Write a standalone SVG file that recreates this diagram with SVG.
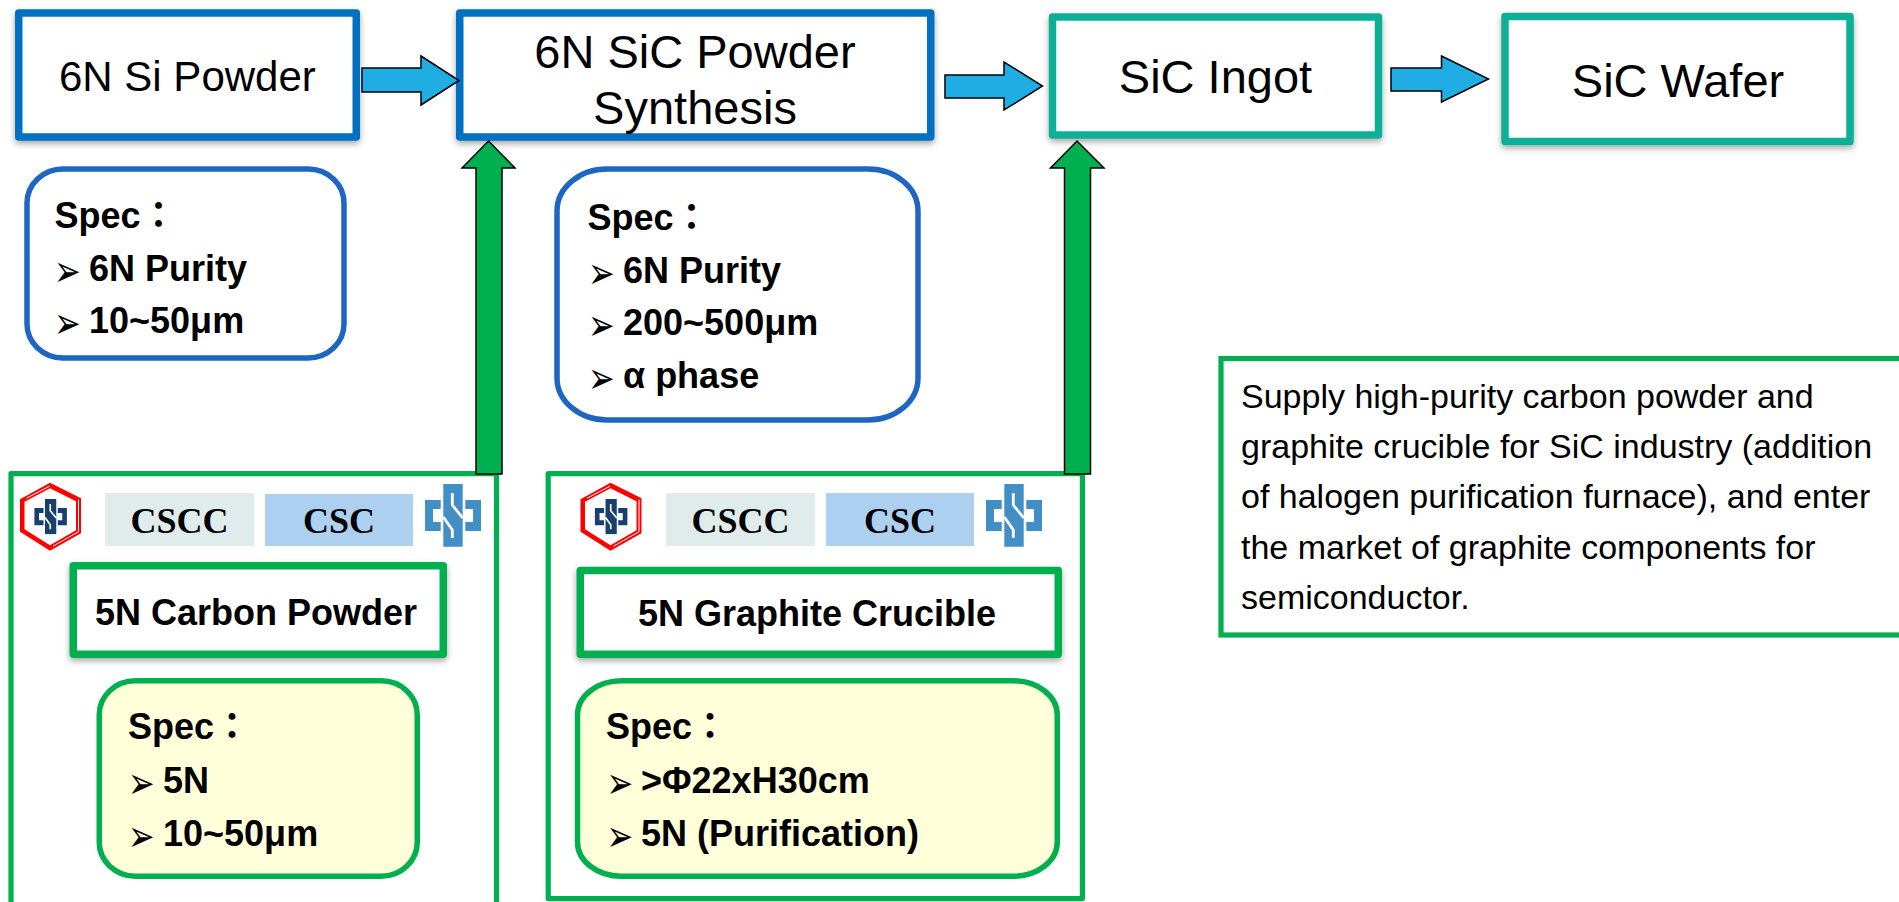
<svg xmlns="http://www.w3.org/2000/svg" xmlns:xlink="http://www.w3.org/1999/xlink" width="1899" height="902" viewBox="0 0 1899 902">
<style>
text{font-family:"Liberation Sans",Arial,sans-serif;fill:#000}
.t{text-anchor:middle}
.b{font-weight:700;font-size:36px}
.g{font-family:"DejaVu Sans",sans-serif;font-size:29px;font-weight:400}
.c{font-family:"Noto Sans CJK TC",sans-serif;font-weight:700}
.s{font-family:"Liberation Serif",serif;font-weight:700;font-size:36px;text-anchor:middle}
.note{font-size:34px}
.pb{fill:#fff;stroke:#0070C0;stroke-width:7.5;stroke-linejoin:round}
.pt{fill:#fff;stroke:#0AB096;stroke-width:7.5;stroke-linejoin:round}
.pg{fill:#fff;stroke:#00B050;stroke-width:7.5;stroke-linejoin:round}
.sb{fill:#fff;stroke:#1F66C1;stroke-width:5.5}
.sy{fill:#FFFFD9;stroke:#00B050;stroke-width:5.5}
.fr{fill:#fff;stroke:#00B050;stroke-width:5.2;stroke-linejoin:round}
.ab{fill:#1FADE4;stroke:#000;stroke-width:1.5}
.ag{fill:#00B050;stroke:#000;stroke-width:1.5}
</style>
<defs>
<filter id="sh" x="-10%" y="-10%" width="120%" height="130%"><feDropShadow dx="0" dy="3" stdDeviation="3" flood-color="#000" flood-opacity=".35"/></filter>
<g id="cross">
<path d="M18.3 0H37.7V62.7H18.3Z"/>
<path d="M0 16H15.7V25H8V38H15.7V47H0ZM56 16H40.3V25H48V38H40.3V47H56Z"/>
<path d="M27.3 9V21L37.7 34M18.3 33L27.3 46V54" fill="none" stroke="#fff" stroke-width="2.8"/>
</g>
<g id="hex">
<path d="M30 0L61 15.5V50.5L30 68L0 49V16.5Z" fill="#F00"/>
<path d="M30 5.5L56 18.5V47.5L30 62.5L4.5 46.5V19Z" fill="#fff"/>
<path d="M6.5 15.5L29.5 3.5M58.5 17V49L33 63.5" fill="none" stroke="#fff" stroke-width="1"/>
<use xlink:href="#cross" href="#cross" transform="translate(14.4 16.3) scale(.58 .56)" fill="#17406F"/>
</g>
</defs>
<rect width="1899" height="902" fill="#fff"/>

<g id="frame-carbon"><rect class="fr" x="11" y="473.6" width="485.5" height="460"/></g>
<g id="frame-crucible"><rect class="fr" x="548.2" y="473.6" width="534.2" height="425"/></g>

<g id="node-si-powder"><rect class="pb" filter="url(#sh)" x="18.75" y="13" width="337.5" height="124"/><text x="59" y="90.5" font-size="42">6N Si Powder</text></g>
<g id="node-sic-synthesis"><rect class="pb" filter="url(#sh)" x="459.75" y="13" width="471" height="124"/><text class="t" x="695" y="67.5" font-size="47">6N SiC Powder</text><text class="t" x="695" y="124" font-size="47">Synthesis</text></g>
<g id="node-sic-ingot"><rect class="pt" filter="url(#sh)" x="1052.5" y="17" width="326" height="118"/><text class="t" x="1215.5" y="92.5" font-size="47">SiC Ingot</text></g>
<g id="node-sic-wafer"><rect class="pt" filter="url(#sh)" x="1505" y="16.5" width="345" height="125"/><text class="t" x="1678" y="96.5" font-size="47">SiC Wafer</text></g>

<g id="spec-si"><rect class="sb" x="27" y="169" width="317" height="189" rx="36" ry="34"/>
<text class="b" x="54.5" y="228">Spec<tspan class="c">：</tspan></text>
<text class="g" transform="translate(54 285.5) scale(1.1 1.5)">➢</text><text class="b" x="89" y="281">6N Purity</text>
<text class="g" transform="translate(54 337.5) scale(1.1 1.5)">➢</text><text class="b" x="89" y="333">10~50μm</text></g>

<g id="spec-sic"><rect class="sb" x="557" y="169" width="361" height="251" rx="50" ry="42"/>
<text class="b" x="587.5" y="230">Spec<tspan class="c">：</tspan></text>
<text class="g" transform="translate(588 287.5) scale(1.1 1.5)">➢</text><text class="b" x="623" y="283">6N Purity</text>
<text class="g" transform="translate(588 339.5) scale(1.1 1.5)">➢</text><text class="b" x="623" y="335">200~500μm</text>
<text class="g" transform="translate(588 392.5) scale(1.1 1.5)">➢</text><text class="b" x="623" y="388">α phase</text></g>

<g id="logos-carbon">
<use xlink:href="#hex" href="#hex" transform="translate(20 482.7)"/>
<rect x="105" y="493" width="149" height="53" fill="#E0ECEB"/><text class="s" x="179.5" y="532.7">CSCC</text>
<rect x="265" y="494" width="148" height="52" fill="#ADD0F0"/><text class="s" x="339" y="533">CSC</text>
<use xlink:href="#cross" href="#cross" transform="translate(425 484)" fill="#428FC5"/>
</g>
<g id="node-carbon"><rect class="pg" filter="url(#sh)" x="73.25" y="565.75" width="370" height="88.5"/><text class="b" x="95" y="625">5N Carbon Powder</text></g>
<g id="spec-carbon"><rect class="sy" x="99.25" y="680.75" width="318" height="195.5" rx="36" ry="34"/>
<text class="b" x="128" y="739">Spec<tspan class="c">：</tspan></text>
<text class="g" transform="translate(128 797.5) scale(1.1 1.5)">➢</text><text class="b" x="163" y="793">5N</text>
<text class="g" transform="translate(128 850.5) scale(1.1 1.5)">➢</text><text class="b" x="163" y="846">10~50μm</text></g>

<g id="logos-crucible">
<use xlink:href="#hex" href="#hex" transform="translate(580.5 482.7)"/>
<rect x="666" y="493" width="149" height="53" fill="#E0ECEB"/><text class="s" x="740.5" y="532.7">CSCC</text>
<rect x="826" y="493" width="148" height="53" fill="#ADD0F0"/><text class="s" x="900" y="532.7">CSC</text>
<use xlink:href="#cross" href="#cross" transform="translate(986 484)" fill="#428FC5"/>
</g>
<g id="node-crucible"><rect class="pg" filter="url(#sh)" x="580.25" y="570.5" width="478" height="83.75"/><text class="b" x="638" y="626">5N Graphite Crucible</text></g>
<g id="spec-crucible"><rect class="sy" x="577.5" y="680.75" width="479.75" height="195.5" rx="44" ry="34"/>
<text class="b" x="606" y="739">Spec<tspan class="c">：</tspan></text>
<text class="g" transform="translate(606.5 797.5) scale(1.1 1.5)">➢</text><text class="b" x="641" y="793">&gt;Φ22xH30cm</text>
<text class="g" transform="translate(606.5 850.5) scale(1.1 1.5)">➢</text><text class="b" x="641" y="846">5N (Purification)</text></g>

<g id="note"><rect x="1221" y="358.5" width="700" height="276.5" fill="#fff" stroke="#00B050" stroke-width="5.2"/>
<text class="note" x="1241" y="408">Supply high-purity carbon powder and</text>
<text class="note" x="1241" y="457.5">graphite crucible for SiC industry (addition</text>
<text class="note" x="1241" y="508">of halogen purification furnace), and enter</text>
<text class="note" x="1241" y="558.5">the market of graphite components for</text>
<text class="note" x="1241" y="609">semiconductor.</text></g>

<g id="connectors">
<path class="ab" d="M362 68H421V56L459 80.5L421 105V92H362Z"/>
<path class="ab" d="M945 75H1004V62L1042.5 86L1004 110V98H945Z"/>
<path class="ab" d="M1391 68H1441.5V56L1488.5 79L1441.5 102V91H1391Z"/>
<path class="ag" d="M476 474V168H462L488.5 141L515 168H502V474Z"/>
<path class="ag" d="M1064.5 474V168H1050.5L1077 141L1104 168H1090.5V474Z"/>
</g>
</svg>
